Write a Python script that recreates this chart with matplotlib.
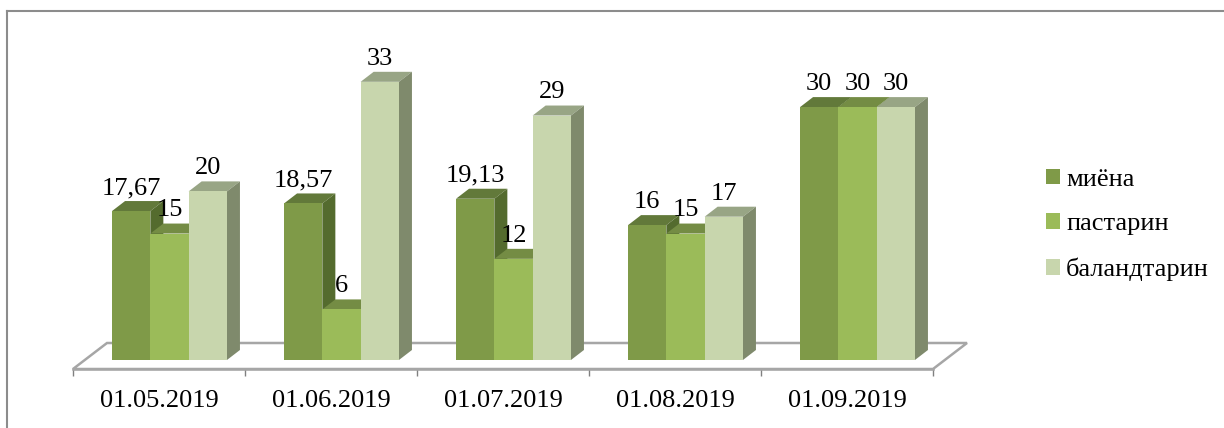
import matplotlib
matplotlib.use("Agg")
import matplotlib.pyplot as plt
from matplotlib.lines import Line2D
from matplotlib.patches import Patch, Polygon

plt.rcParams['font.family'] = ['Liberation Serif']

# Data
dates = ['01.05.2019', '01.06.2019', '01.07.2019', '01.08.2019', '01.09.2019']
series_names = ['миёна', 'пастарин', 'баландтарин']
mid_vals = [17.67, 18.57, 19.13, 16, 30]
low_vals = [15, 6, 12, 15, 30]
high_vals = [20, 33, 29, 17, 30]
mid_labels = ['17,67', '18,57', '19,13', '16', '30']
low_labels = ['15', '6', '12', '15', '30']
high_labels = ['20', '33', '29', '17', '30']

# front, side, top colours of each series
colors = [('#7F9A48', '#546B2E', '#62793A'),
          ('#9BBB59', '#6F8A3E', '#748C44'),
          ('#C8D6AD', '#7F8A6C', '#98A585')]

W, H = 1224, 428
fig = plt.figure(figsize=(W / 100, H / 100), dpi=100)
ax = fig.add_axes([73 / W, (H - 369) / H, 860 / W, 349 / H])

# one x unit is 172 px, one y unit is 8.43 px
XU, YU = 172, 8.43
ax.set_xlim(-0.5, 4.5)
ax.set_ylim(-9 / YU, 340 / YU)
ax.patch.set_visible(False)

dx = 13 / XU
dy = 10 / YU
bar_w = 38.3 / XU
shift = 10.5 / XU

# floor of the 3D box
floor_dx = 34 / XU
floor_back = 17 / YU
ax.add_patch(Polygon([(-0.5, -9 / YU), (-0.5 + floor_dx, floor_back),
                      (4.5 + floor_dx, floor_back), (4.5, -9 / YU)],
                     closed=True, fc='white', ec='#A6A6A6', lw=1.8, clip_on=False))

all_vals = [mid_vals, low_vals, high_vals]
all_labels = [mid_labels, low_labels, high_labels]

for g in range(len(dates)):
    for s in range(3):
        v = all_vals[s][g]
        front, side, top = colors[s]
        x0 = g + shift + (s - 1.5) * bar_w
        x1 = x0 + bar_w
        ax.add_patch(Polygon([(x0, v), (x0 + dx, v + dy), (x1 + dx, v + dy), (x1, v)],
                             closed=True, fc=top, lw=0))
        ax.add_patch(Polygon([(x1, 0), (x1 + dx, dy), (x1 + dx, v + dy), (x1, v)],
                             closed=True, fc=side, lw=0))
        ax.bar(x0, v, width=bar_w, align='edge', color=front, linewidth=0)
        ax.annotate(all_labels[s][g], xy=(x0 + bar_w / 2, v + dy), xytext=(0, 1.5),
                    textcoords='offset points', ha='center', va='bottom', fontsize=19,
                    annotation_clip=False)

# axis
for sp in ['top', 'left', 'right']:
    ax.spines[sp].set_visible(False)
ax.spines['bottom'].set_color('#A6A6A6')
ax.spines['bottom'].set_linewidth(1.8)
ax.set_yticks([])
ax.set_xticks(range(len(dates)))
ax.set_xticklabels(dates, fontsize=19)
ax.set_xticks([i - 0.5 for i in range(len(dates) + 1)], minor=True)
ax.tick_params(axis='x', which='major', length=0, pad=15)
ax.tick_params(axis='x', which='minor', length=5, width=1, color='#808080')

# legend
handles = [Patch(fc=c[0], lw=0) for c in colors]
fs_px = 19 * 100 / 72
ax.legend(handles, series_names, loc='center left',
          bbox_to_anchor=(1046 / W, (H - 225) / H), bbox_transform=fig.transFigure,
          frameon=False, fontsize=19, handlelength=14 / fs_px, handleheight=14 / fs_px,
          handletextpad=6 / fs_px, labelspacing=(49 - fs_px) / fs_px, borderpad=0, borderaxespad=0)

# chart frame
fig.add_artist(Line2D([7 / W, 7 / W], [0, (H - 10.5) / H], color='#8C8C8C', lw=1.5))
fig.add_artist(Line2D([7 / W, 1], [(H - 10.5) / H, (H - 10.5) / H], color='#8C8C8C', lw=1.5))

fig.savefig('out.png', dpi=100)
